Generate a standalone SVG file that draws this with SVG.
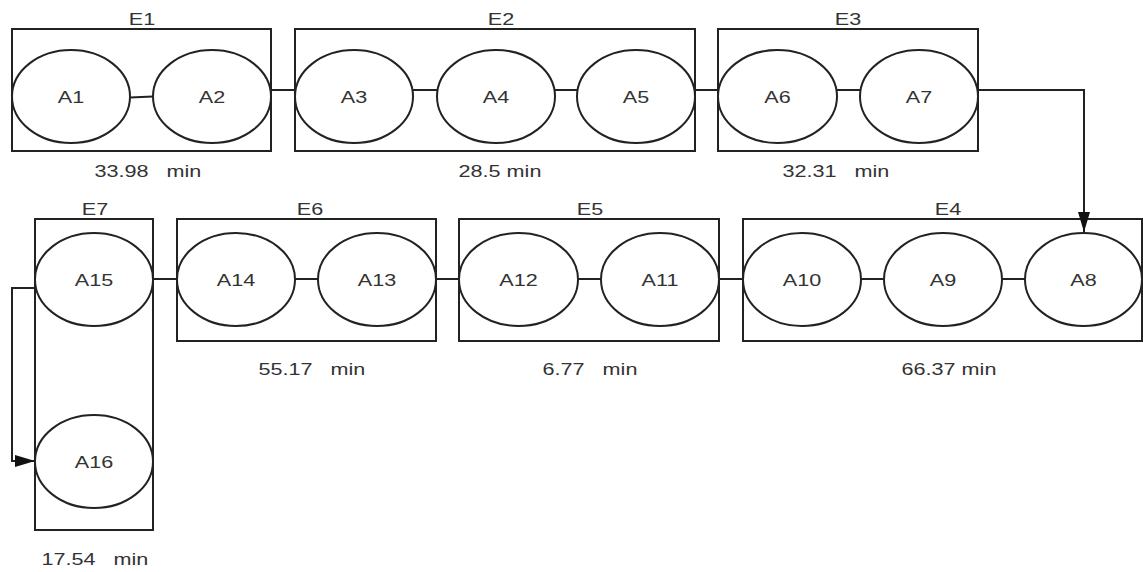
<svg xmlns="http://www.w3.org/2000/svg" width="1143" height="572" viewBox="0 0 1143 572">
  <style>
    .box { fill: none; stroke: #222; stroke-width: 2; }
    .act { fill: #fff; stroke: #222; stroke-width: 2; }
    .wire { fill: none; stroke: #222; stroke-width: 2; }
    text { font-family: "Liberation Sans", Arial, sans-serif; font-size: 17px; fill: #333; text-anchor: middle; }
  </style>
  <defs>
    <marker id="arrow" markerUnits="userSpaceOnUse" markerWidth="21" markerHeight="14" refX="20" refY="7" orient="auto">
      <path d="M0,1 L20,7 L0,13 Z" fill="#111"/>
    </marker>
  </defs>
  <rect width="1143" height="572" fill="#fff"/>

  <!-- stage frames with their titles and durations -->
  <g id="E1">
    <rect class="box" x="12" y="29" width="259" height="122"/>
    <text transform="translate(142 25) scale(1.27 1)">E1</text>
    <text transform="translate(148 177) scale(1.27 1)" xml:space="preserve">33.98   min</text>
  </g>
  <g id="E2">
    <rect class="box" x="295" y="29" width="400" height="122"/>
    <text transform="translate(501 25) scale(1.27 1)">E2</text>
    <text transform="translate(500 177) scale(1.27 1)">28.5 min</text>
  </g>
  <g id="E3">
    <rect class="box" x="718" y="29" width="260" height="122"/>
    <text transform="translate(848 25) scale(1.27 1)">E3</text>
    <text transform="translate(836 177) scale(1.27 1)" xml:space="preserve">32.31   min</text>
  </g>
  <g id="E4">
    <rect class="box" x="743" y="219" width="399" height="122"/>
    <text transform="translate(948 215) scale(1.27 1)">E4</text>
    <text transform="translate(949 375) scale(1.27 1)">66.37 min</text>
  </g>
  <g id="E5">
    <rect class="box" x="459" y="219" width="260" height="122"/>
    <text transform="translate(590 215) scale(1.27 1)">E5</text>
    <text transform="translate(590 375) scale(1.27 1)" xml:space="preserve">6.77   min</text>
  </g>
  <g id="E6">
    <rect class="box" x="177" y="219" width="259" height="122"/>
    <text transform="translate(310 215) scale(1.27 1)">E6</text>
    <text transform="translate(312 375) scale(1.27 1)" xml:space="preserve">55.17   min</text>
  </g>
  <g id="E7">
    <rect class="box" x="35" y="219" width="118" height="311"/>
    <text transform="translate(95 215) scale(1.27 1)">E7</text>
    <text transform="translate(95 565) scale(1.27 1)" xml:space="preserve">17.54   min</text>
  </g>

  <!-- links between activities -->
  <g id="connectors">
    <path class="wire" d="M130,97.5 L153,96.5"/>
    <path class="wire" d="M271,90 H295"/>
    <path class="wire" d="M413,90 H437"/>
    <path class="wire" d="M555,90 H577"/>
    <path class="wire" d="M695,90 H718"/>
    <path class="wire" d="M837,90 H860"/>
    <path class="wire" d="M978,90 H1084 V232" marker-end="url(#arrow)"/>
    <path class="wire" d="M1002,279 H1025"/>
    <path class="wire" d="M861,279 H884"/>
    <path class="wire" d="M719,279 H743"/>
    <path class="wire" d="M578,279 H601"/>
    <path class="wire" d="M436,279 H459"/>
    <path class="wire" d="M295,279 H318"/>
    <path class="wire" d="M153,279 H177"/>
    <path class="wire" d="M35,288 H12 V461 H35" marker-end="url(#arrow)"/>
  </g>

  <!-- activities -->
  <g id="A1"><ellipse class="act" cx="71" cy="96.5" rx="59" ry="46.5"/><text transform="translate(71 102.5) scale(1.27 1)">A1</text></g>
  <g id="A2"><ellipse class="act" cx="212" cy="96.5" rx="59" ry="46.5"/><text transform="translate(212 102.5) scale(1.27 1)">A2</text></g>
  <g id="A3"><ellipse class="act" cx="354" cy="96.5" rx="59" ry="46.5"/><text transform="translate(354 102.5) scale(1.27 1)">A3</text></g>
  <g id="A4"><ellipse class="act" cx="496" cy="96.5" rx="59" ry="46.5"/><text transform="translate(496 102.5) scale(1.27 1)">A4</text></g>
  <g id="A5"><ellipse class="act" cx="636" cy="96.5" rx="59" ry="46.5"/><text transform="translate(636 102.5) scale(1.27 1)">A5</text></g>
  <g id="A6"><ellipse class="act" cx="777.5" cy="96.5" rx="59.5" ry="46.5"/><text transform="translate(777.5 102.5) scale(1.27 1)">A6</text></g>
  <g id="A7"><ellipse class="act" cx="919" cy="96.5" rx="59" ry="46.5"/><text transform="translate(919 102.5) scale(1.27 1)">A7</text></g>
  <g id="A8"><ellipse class="act" cx="1083.5" cy="279.5" rx="58.5" ry="46.5"/><text transform="translate(1083.5 285.5) scale(1.27 1)">A8</text></g>
  <g id="A9"><ellipse class="act" cx="943" cy="279.5" rx="59" ry="46.5"/><text transform="translate(943 285.5) scale(1.27 1)">A9</text></g>
  <g id="A10"><ellipse class="act" cx="802" cy="279.5" rx="59" ry="46.5"/><text transform="translate(802 285.5) scale(1.27 1)">A10</text></g>
  <g id="A11"><ellipse class="act" cx="660" cy="279.5" rx="59" ry="46.5"/><text transform="translate(660 285.5) scale(1.27 1)">A11</text></g>
  <g id="A12"><ellipse class="act" cx="518.5" cy="279.5" rx="59.5" ry="46.5"/><text transform="translate(518.5 285.5) scale(1.27 1)">A12</text></g>
  <g id="A13"><ellipse class="act" cx="377" cy="279.5" rx="59" ry="46.5"/><text transform="translate(377 285.5) scale(1.27 1)">A13</text></g>
  <g id="A14"><ellipse class="act" cx="236" cy="279.5" rx="59" ry="46.5"/><text transform="translate(236 285.5) scale(1.27 1)">A14</text></g>
  <g id="A15"><ellipse class="act" cx="94" cy="279.5" rx="59" ry="46.5"/><text transform="translate(94 285.5) scale(1.27 1)">A15</text></g>
  <g id="A16"><ellipse class="act" cx="94" cy="461.5" rx="59" ry="46.5"/><text transform="translate(94 467.5) scale(1.27 1)">A16</text></g>
</svg>
